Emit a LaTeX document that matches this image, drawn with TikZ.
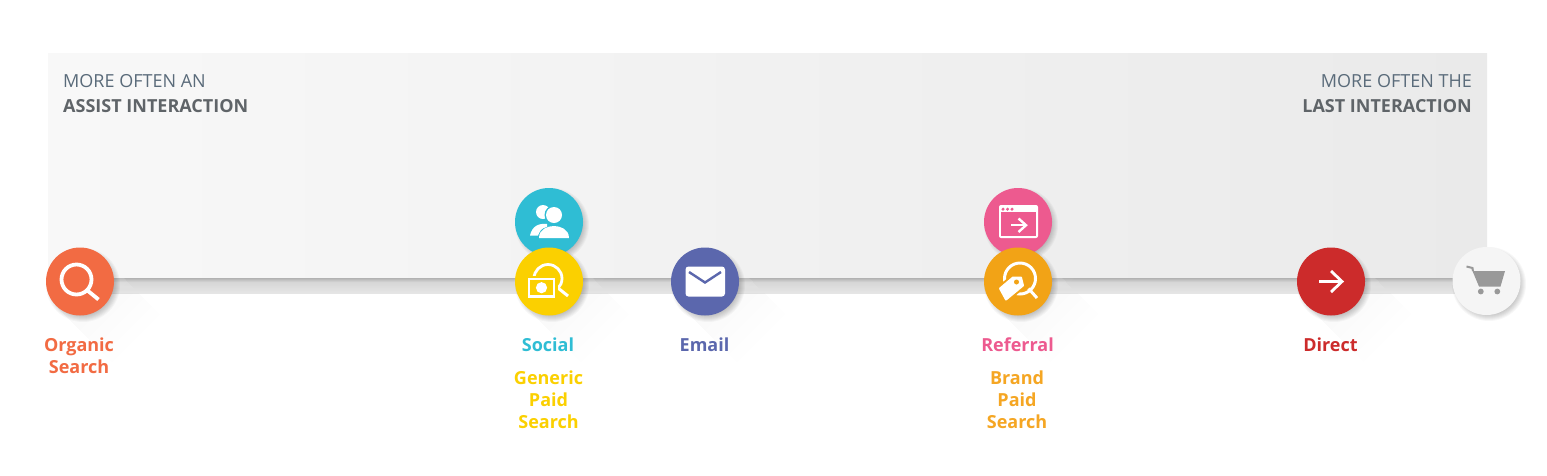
\documentclass[tikz,border=0pt]{standalone}
\usepackage{fontspec}
\setmainfont{Open Sans}
\definecolor{cOrange}{HTML}{F26B43}
\definecolor{cTeal}{HTML}{2FBDD4}
\definecolor{cYellow}{HTML}{FBD000}
\definecolor{cIndigo}{HTML}{5B67AD}
\definecolor{cPink}{HTML}{ED5A8F}
\definecolor{cAmber}{HTML}{F2A316}
\definecolor{cLabelAmber}{HTML}{F5A623}
\definecolor{cRed}{HTML}{CC2B2B}
\definecolor{cHead}{HTML}{5A6B7A}
\definecolor{cHeadB}{HTML}{5F6468}
\definecolor{cCart}{HTML}{999999}
\definecolor{cCartBg}{HTML}{F5F5F5}
\definecolor{cPanelL}{HTML}{F8F8F8}
\definecolor{cPanelR}{HTML}{EAEAEA}
\tikzset{
  badge/.style={circle,draw=none,minimum size=68pt,inner sep=0pt,fill=#1},
  lab/.style={inner sep=0pt,align=center,font=\fontsize{18}{22}\selectfont\bfseries,text=#1},
  headtxt/.style={inner sep=0pt,font=\fontsize{18}{25}\selectfont,text=cHead},
  headbold/.style={inner sep=0pt,font=\fontsize{18}{25}\selectfont\bfseries,text=cHeadB},
  iconline/.style={draw=white,line width=#1,line cap=round,line join=round,fill=none},
}
\newcommand{\softshadow}[2]{%
  \foreach \R in {28,29,30,31,32,33,34,35,36,37}{%
    \fill[black,opacity=.03] (#1+3,#2+3) circle[radius=\R];
  }%
}
\newcommand{\badgeshadow}[2]{%
  \foreach \L in {8,16,24,32,40,48,56}{%
    \begin{scope}
      \clip (0,53) rectangle (1547,293);
      \fill[white,opacity=.03] (#1+24,#2-24) -- ++(\L,\L) -- ++(-48,48) -- (#1-24,#2+24) -- cycle;
    \end{scope}
    \begin{scope}
      \clip (0,293) rectangle (1547,475);
      \fill[black,opacity=.003] (#1+24,#2-24) -- ++(\L,\L) -- ++(-48,48) -- (#1-24,#2+24) -- cycle;
    \end{scope}
  }%
  \softshadow{#1}{#2}%
}
\begin{document}
\begin{tikzpicture}[x=1pt,y=-1pt]
\useasboundingbox (0,0) rectangle (1547,475);
\fill[white] (0,0) rectangle (1547,475);
\shade[left color=cPanelL,right color=cPanelR] (48,53) rectangle (1487,293);
\node[headtxt,anchor=base west] (h1) at (63,87) {MORE OFTEN AN};
\node[headbold,anchor=base west] (h2) at (63,112) {ASSIST INTERACTION};
\node[headtxt,anchor=base east] (h3) at (1472,87) {MORE OFTEN THE};
\node[headbold,anchor=base east] (h4) at (1472,112) {LAST INTERACTION};

\coordinate (bandstart) at (80,278);
\coordinate (bandmid) at (1487,282);
\coordinate (bandlow) at (80,282);
\coordinate (bandend) at (1487,293);
\shade[top color=black!30,bottom color=black!16] (bandstart) rectangle (bandmid);
\shade[top color=black!16,bottom color=black!10] (bandlow) rectangle (bandend);

% Organic search
\badgeshadow{80}{282}
\node[badge=cOrange] (organic) at (80,281.5) {};
\begin{scope}[shift={(organic.center)}]
  \draw[iconline=3.8pt] (-3.5,-2) circle[radius=15];
  \draw[iconline=3.8pt,line cap=butt] (7.5,9) -- (18.5,18);
\end{scope}

% Social
\badgeshadow{549}{222}
\node[badge=cTeal] (social) at (549,222) {};
\begin{scope}[shift={(social.center)}]
  \fill[white] (-6,-10) circle[radius=7];
  \fill[white] (-19,13.5) .. controls (-17,4) and (-10,1) .. (-2,2) -- (-2,5) .. controls (-8,6) and (-9,9) .. (-11,13.5) -- cycle;
  \fill[cTeal] (5,-7) circle[radius=9.5];
  \fill[white] (5,-7) circle[radius=8];
  \fill[white] (-10,16) .. controls (-10,7) and (-1,4) .. (5,4) .. controls (11,4) and (20,7) .. (20,16) -- cycle;
\end{scope}

% Generic paid search
\badgeshadow{549}{282}
\node[badge=cYellow] (generic) at (549,281.5) {};
\begin{scope}[shift={(generic.center)}]
  \draw[iconline=2.8pt] (-1,-3) circle[radius=14];
  \draw[iconline=3pt,line cap=butt] (9,6.5) -- (19,14.5);
  \fill[cYellow] (-23.5,-6) rectangle (9,18.5);
  \fill[white] (-21,-3.5) rectangle (6,16);
  \fill[cYellow] (-18.8,-1.5) rectangle (3.8,13.8);
  \fill[white] (-7.5,6.2) circle[radius=5.6];
\end{scope}

% Email
\badgeshadow{705}{282}
\node[badge=cIndigo] (email) at (705,281.5) {};
\begin{scope}[shift={(email.center)}]
  \fill[white,rounded corners=3pt] (-19.5,-15) rectangle (20,15);
  \draw[cIndigo,line width=2.4pt,line join=miter] (-16,-9.5) -- (0,1) -- (16,-9.5);
\end{scope}

% Referral
\badgeshadow{1018}{222}
\node[badge=cPink] (referral) at (1018,222) {};
\begin{scope}[shift={(referral.center)}]
  \fill[white,rounded corners=2pt] (-19,-17) rectangle (20,16);
  \fill[cPink] (-17,-10) rectangle (18,14);
  \foreach \dx in {-15,-10.5,-6}{\fill[cPink] (\dx,-12.8) circle[radius=1.7];}
  \draw[iconline=2.4pt,line cap=butt] (-7,3.2) -- (7.5,3.2);
  \draw[iconline=2.4pt,line cap=butt,line join=miter] (0.5,-3.5) -- (8,3.2) -- (0.5,10);
\end{scope}

% Brand paid search
\badgeshadow{1018}{282}
\node[badge=cAmber] (brand) at (1018,281.5) {};
\begin{scope}[shift={(brand.center)}]
  \draw[iconline=3pt] (2,-3) circle[radius=15.5];
  \draw[iconline=3pt,line cap=butt] (10.5,7) -- (19,16.5);
  \fill[cAmber,draw=cAmber,line join=round,line width=6pt] (-18,7) -- (-5,-4) -- (3,-4) -- (5,4) -- (-12,18) -- cycle;
  \fill[white,draw=white,line width=2pt,line join=round] (-18,7) -- (-5,-4) -- (3,-4) -- (5,4) -- (-12,18) -- cycle;
  \fill[cAmber] (-1.5,0.5) circle[radius=2.5];
\end{scope}

% Direct
\badgeshadow{1331}{282}
\node[badge=cRed] (direct) at (1331,281.5) {};
\begin{scope}[shift={(direct.center)}]
  \draw[iconline=2.8pt,line cap=butt] (-12,0) -- (11,0);
  \draw[iconline=2.8pt,line cap=butt,line join=miter] (0,-10.5) -- (11,0) -- (0,10.5);
\end{scope}

% Cart
\softshadow{1486}{281}
\node[badge=cCartBg] (cart) at (1486.5,281) {};
\begin{scope}[shift={(cart.center)}]
  \draw[cCart,line width=2pt] (-20,-14.5) -- (-14,-13) -- (-13.6,-10);
  \fill[cCart] (-14,-10) -- (18.5,-10) -- (14,5.5) -- (-7.5,5.5) -- cycle;
  \fill[cCart] (-5.7,10.5) circle[radius=2.9];
  \fill[cCart] (10.8,10.5) circle[radius=2.9];
\end{scope}

% Labels
\node[lab=cOrange,anchor=north] (lorganic) at (79,338) {Organic\\Search};
\node[lab=cTeal,anchor=north] (lsocial) at (548,338) {Social};
\node[lab=cYellow,anchor=north] (lgeneric) at (548.5,371) {Generic\\Paid\\Search};
\node[lab=cIndigo,anchor=north] (lemail) at (704.5,338) {Email};
\node[lab=cPink,anchor=north] (lreferral) at (1017.5,338) {Referral};
\node[lab=cLabelAmber,anchor=north] (lbrand) at (1017,371) {Brand\\Paid\\Search};
\node[lab=cRed,anchor=north] (ldirect) at (1330.5,338) {Direct};
\end{tikzpicture}
\end{document}
